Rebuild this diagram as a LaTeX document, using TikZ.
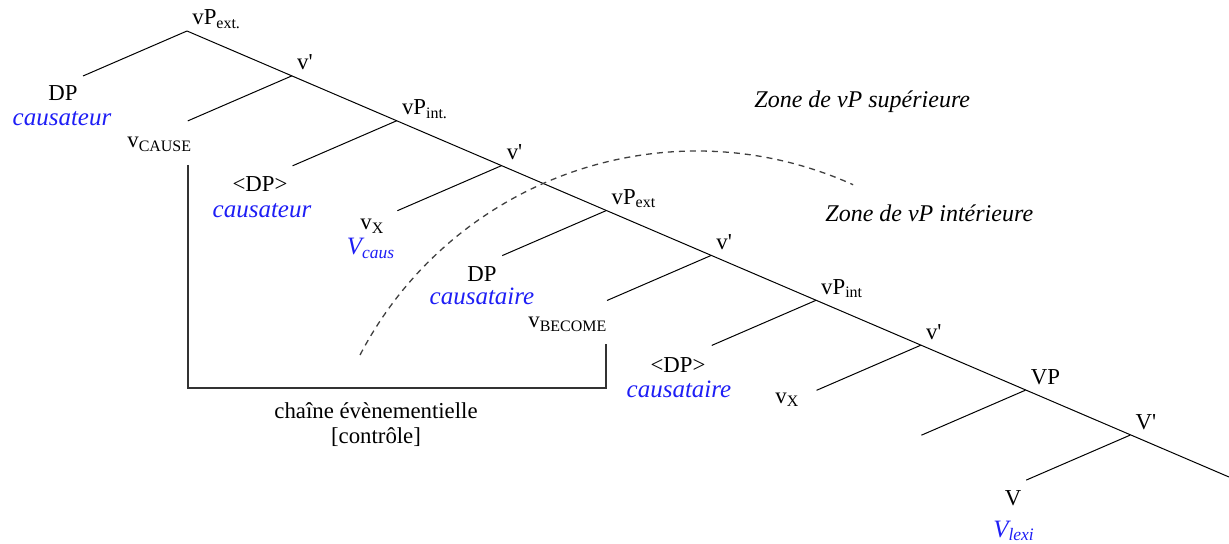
\documentclass[tikz,border=0pt]{standalone}
\usepackage{fontspec}
\setmainfont{Liberation Serif}
\usepackage{tikz}
\usetikzlibrary{calc}
\definecolor{glossblue}{RGB}{30,30,245}
\newcommand{\primemark}{\textquotesingle}
\tikzset{
  cat/.style={font=\fontsize{11.4}{12.5}\selectfont,inner sep=0pt},
  gloss/.style={font=\fontsize{12.5}{14}\selectfont\itshape,text=glossblue,inner sep=0pt},
  zone/.style={font=\fontsize{12}{14}\selectfont\itshape,inner sep=0pt},
  branch/.style={line width=0.5pt},
  chain/.style={line width=0.6pt,black!80},
  zonearc/.style={line width=0.65pt,black!75,dash pattern=on 3pt off 2.5pt},
}

\begin{document}
\begin{tikzpicture}[x=0.5pt,y=-0.5pt]
  \useasboundingbox (0,0) rectangle (1229,544);
  \foreach \k in {0,...,9}{
    \coordinate (j\k) at ({187+104.8*\k},{31+44.9*\k});
    \coordinate (e\k) at ($(j\k)+(-104,45)$);
  }
  \coordinate (jend) at (1229,477);
  \draw[branch] (j0) -- (jend);
  \foreach \k in {0,...,9}
    \draw[branch] (j\k) -- (e\k);
  \foreach \k/\lab in {0/{vP\textsubscript{ext.}},1/{v\primemark},2/{vP\textsubscript{int.}},
      3/{v\primemark},4/{vP\textsubscript{ext}},5/{v\primemark},6/{vP\textsubscript{int}},
      7/{v\primemark},8/{VP},9/{V\primemark}}
    \node[cat,anchor=base west] (n\k) at ($(j\k)+(5,-6)$) {\lab};

  \node[cat,anchor=base] (dp1) at (63,101) {DP};
  \node[gloss,anchor=base] (causa1) at (62,126) {causateur};
  \node[cat,anchor=base west] (vcause) at (127,148) {v\textsubscript{CAUSE}};
  \node[cat,anchor=base] (dp2) at (260,192) {<DP>};
  \node[gloss,anchor=base] (causa2) at (262,218) {causateur};
  \node[cat,anchor=base west] (vx1) at (360,230) {v\textsubscript{X}};
  \node[gloss,anchor=base] (vcaus) at (371,255) {V\textsubscript{caus}};
  \node[cat,anchor=base] (dp3) at (482,282) {DP};
  \node[gloss,anchor=base] (cause3) at (482,305) {causataire};
  \node[cat,anchor=base west] (vbecome) at (528,328) {v\textsubscript{BECOME}};
  \node[cat,anchor=base] (dp4) at (678,372) {<DP>};
  \node[gloss,anchor=base] (cause4) at (679,398) {causataire};
  \node[cat,anchor=base west] (vx2) at (775,403) {v\textsubscript{X}};
  \node[cat,anchor=base] (vlex) at (1013,505) {V};
  \node[gloss,anchor=base] (vlexi) at (1014,537) {V\textsubscript{lexi}};

  \coordinate (bTL) at (188,165);
  \coordinate (bBL) at (188,388);
  \coordinate (bTR) at (606,344);
  \draw[chain] (bTL) -- (bBL) -| (bTR);
  \node[cat,anchor=north,align=center] (chaine) at (376,402) {chaîne évènementielle\\{[contrôle]}};

  \node[zone,anchor=base west] (zsup) at (754,108) {Zone de vP supérieure};
  \node[zone,anchor=base west] (zint) at (825,222) {Zone de vP intérieure};
  \coordinate (arcA) at (360,355);
  \draw[zonearc] (arcA) arc[start angle=152.4,end angle=65.7,radius=190pt];
\end{tikzpicture}
\end{document}
